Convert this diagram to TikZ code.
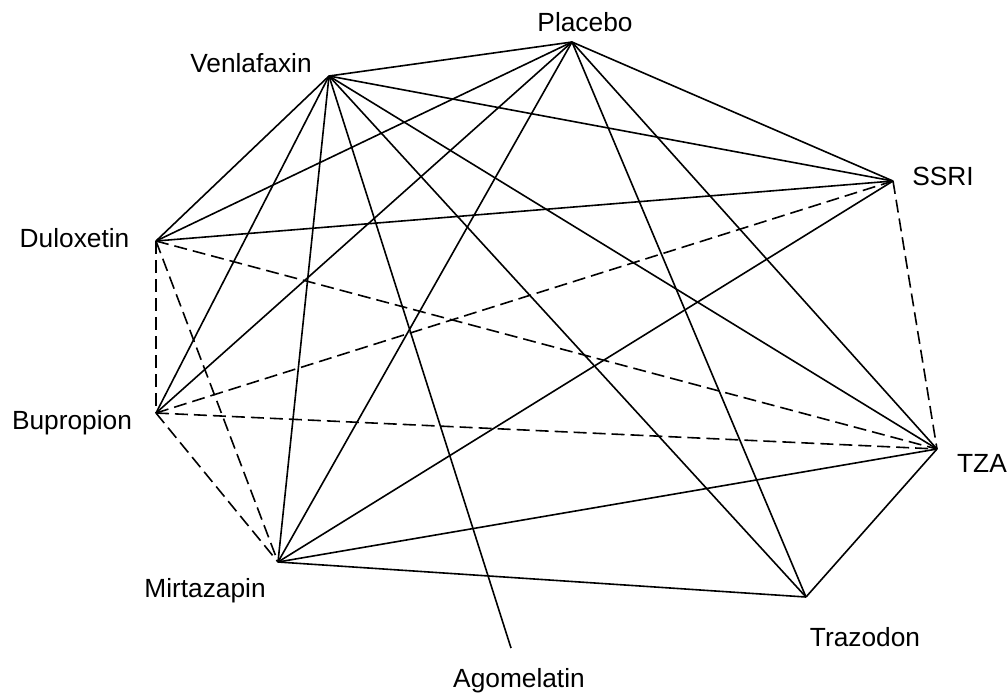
\documentclass[tikz,border=0pt]{standalone}
\usepackage{fontspec}
\setmainfont{Liberation Sans}
\usepackage{tikz}

\begin{document}
\begin{tikzpicture}[x=0.5pt,y=-0.5pt,
    edge/.style={black, line width=0.8pt},
    dashedge/.style={edge, dash pattern=on 6.5pt off 3pt},
    drug/.style={black, inner sep=0pt, anchor=base,
      font=\fontsize{13.15}{15}\selectfont}]
    \path[use as bounding box] (0,0) rectangle (1007,693);

    % Treatment positions on the network.
    \coordinate (placebo)    at (572,42);
    \coordinate (venlafaxin) at (329,76);
    \coordinate (ssri)       at (893,181);
    \coordinate (duloxetin)  at (156,241);
    \coordinate (bupropion)  at (156,413);
    \coordinate (tza)        at (937,449);
    \coordinate (mirtazapin) at (278,562);
    \coordinate (trazodon)   at (806,597);
    \coordinate (agomelatin) at (511,648);

    % Direct comparisons.
    \foreach \from/\to in {venlafaxin/placebo,venlafaxin/ssri,
      venlafaxin/duloxetin,venlafaxin/bupropion,venlafaxin/mirtazapin,
      venlafaxin/agomelatin,venlafaxin/trazodon,venlafaxin/tza,
      placebo/duloxetin,placebo/bupropion,placebo/mirtazapin,
      placebo/ssri,placebo/tza,placebo/trazodon,
      duloxetin/ssri,mirtazapin/ssri,mirtazapin/tza,
      mirtazapin/trazodon,tza/trazodon} {
      \draw[edge] (\from) -- (\to);
    }

    % Comparisons drawn dashed.
    \foreach \from/\to in {duloxetin/bupropion,duloxetin/mirtazapin,
      duloxetin/tza,bupropion/ssri,bupropion/tza,bupropion/mirtazapin,
      ssri/tza} {
      \draw[dashedge] (\from) -- (\to);
    }

    \foreach \pos/\drugname in {{(585,31)}/Placebo,{(251,72)}/Venlafaxin,
      {(943,185)}/SSRI,{(74.5,247)}/Duloxetin,{(72,429)}/Bupropion,
      {(982,472)}/TZA,{(205,597)}/Mirtazapin,{(865,646)}/Trazodon,
      {(519,687)}/Agomelatin} {
      \node[drug] (lbl\drugname) at \pos {\drugname};
    }
  \end{tikzpicture}
\end{document}
